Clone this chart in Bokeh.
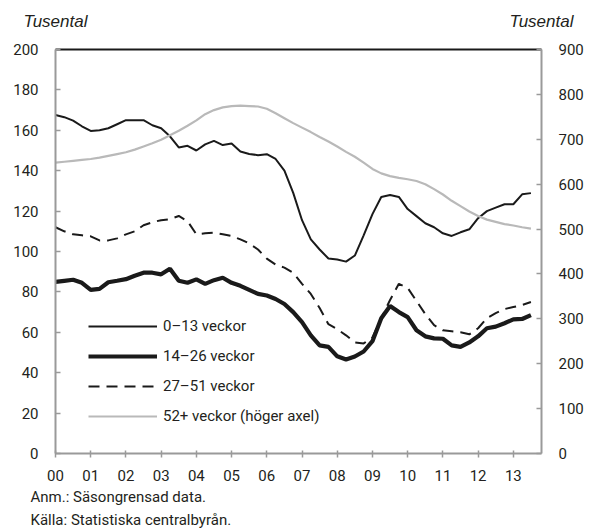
from bokeh.plotting import figure
from bokeh.models import Range1d, LinearAxis, Legend, LegendItem, FixedTicker, Title
from bokeh.embed import file_html
from bokeh.resources import INLINE

# Quarterly data, 2000 Q1 - 2013 Q3 (thousands)
year_ticks = list(range(14))
year_labels = ["00", "01", "02", "03", "04", "05", "06", "07", "08", "09", "10", "11", "12", "13"]

w0_13 = [167.6, 166.5, 164.8, 162.0, 159.7, 160.0, 161.0, 163.0, 165.0, 165.0, 165.0, 162.5,
         161.0, 157.0, 151.5, 152.3, 150.0, 153.0, 154.8, 152.7, 153.5, 149.5, 148.3, 147.7,
         148.2, 145.8, 140.0, 129.0, 115.5, 106.0, 101.0, 96.5, 96.0, 95.0, 98.0, 108.0,
         118.5, 127.0, 128.0, 127.0, 121.0, 117.5, 114.0, 112.0, 109.0, 107.7, 109.5, 111.0,
         116.5, 120.0, 121.7, 123.4, 123.4, 128.3, 128.9]
w14_26 = [85.0, 85.5, 86.0, 84.5, 81.0, 81.5, 84.8, 85.5, 86.3, 88.0, 89.5, 89.5,
          88.7, 91.5, 85.5, 84.5, 86.2, 84.0, 85.8, 87.0, 84.5, 83.0, 81.0, 79.0,
          78.2, 76.5, 74.0, 70.0, 65.0, 58.5, 53.5, 52.8, 48.1, 46.5, 48.0, 50.5,
          55.6, 67.0, 73.0, 70.0, 67.5, 61.0, 58.0, 57.0, 56.8, 53.5, 52.8, 55.0,
          58.0, 62.0, 62.8, 64.5, 66.4, 66.6, 68.5]
w27_51 = [112.0, 110.0, 108.5, 108.0, 107.5, 105.5, 105.5, 106.5, 108.5, 110.0, 113.0, 114.5,
          115.5, 116.0, 117.6, 115.0, 108.5, 109.0, 109.3, 108.5, 107.7, 106.0, 104.0, 101.0,
          96.5, 93.5, 92.0, 89.5, 84.0, 79.0, 72.0, 64.0, 61.5, 58.5, 55.0, 54.5,
          57.5, 67.0, 76.0, 84.0, 82.0, 75.5, 69.0, 63.5, 61.0, 60.5, 60.0, 59.0,
          62.0, 67.0, 69.5, 71.5, 72.5, 73.5, 75.0]
w52p = [648, 650, 652, 654, 656, 659, 663, 667, 671, 677, 684, 691,
        699, 709, 719, 730, 742, 756, 765, 771, 774, 775, 774, 773,
        768, 758, 747, 736, 726, 716, 705, 695, 684, 672, 661, 648,
        634, 624, 618, 614, 611, 607, 600, 589, 577, 563, 551, 539,
        529, 521, 516, 511, 508, 504, 501]

series_names = ["0\u201313 veckor", "14\u201326 veckor", "27\u201351 veckor", "52+ veckor (h\u00f6ger axel)"]
unit_label = "Tusental"
notes = ["Anm.: S\u00e4songrensad data.", "K\u00e4lla: Statistiska centralbyr\u00e5n."]

x = [i / 4 for i in range(len(w0_13))]

FONT = "Roboto"
GRAY_AX = "#9a9a9a"
TXT = "#231f20"
X_END = 13.8

p = figure(frame_width=486, frame_height=404, output_backend="svg", toolbar_location=None,
           x_range=Range1d(0, X_END), y_range=Range1d(0, 200), x_axis_location=None,
           min_border_left=55, min_border_right=49, min_border_top=49, min_border_bottom=76)
p.extra_y_ranges = {"right": Range1d(0, 900)}
p.outline_line_color = None
p.xgrid.visible = False
p.ygrid.visible = False
p.background_fill_color = "white"

r1 = p.line(x, w0_13, line_color="#1a1a1a", line_width=2)
r2 = p.line(x, w14_26, line_color="#1a1a1a", line_width=4.2)
r3 = p.line(x, w27_51, line_color="#1a1a1a", line_width=2, line_dash="11 7")
r4 = p.line(x, w52p, line_color="#b9b9b9", line_width=2.2, y_range_name="right")

# bottom axis
xa = LinearAxis(ticker=FixedTicker(ticks=year_ticks))
xa.major_label_overrides = {t: l for t, l in zip(year_ticks, year_labels)}
xa.axis_line_color = GRAY_AX
xa.axis_line_width = 2
xa.major_tick_line_color = GRAY_AX
xa.major_tick_line_width = 1.5
xa.major_tick_in = 3
xa.major_tick_out = 4
xa.minor_tick_line_color = None
xa.major_label_text_font = FONT
xa.major_label_text_font_size = "15px"
xa.major_label_text_color = TXT
xa.major_label_standoff = 12
p.add_layout(xa, "below")

# top axis: black frame line + unit labels at both ends
ta = LinearAxis(ticker=FixedTicker(ticks=[0.0001, X_END - 0.0001]))
ta.major_label_overrides = {0.0001: unit_label, X_END - 0.0001: unit_label}
ta.axis_line_color = "#1a1a1a"
ta.axis_line_width = 1.8
ta.major_tick_line_color = None
ta.minor_tick_line_color = None
ta.major_label_text_font = "Liberation Sans"
ta.major_label_text_font_style = "italic"
ta.major_label_text_font_size = "17px"
ta.major_label_text_color = TXT
ta.major_label_standoff = 13
p.add_layout(ta, "above")

ya = p.yaxis[0]
ya.ticker = FixedTicker(ticks=[0, 20, 40, 60, 80, 100, 120, 140, 160, 180, 200])
ya.axis_line_color = GRAY_AX
ya.axis_line_width = 2
ya.major_tick_line_color = GRAY_AX
ya.major_tick_line_width = 1.5
ya.major_tick_in = 5
ya.major_tick_out = 0
ya.minor_tick_line_color = None
ya.major_label_text_font = FONT
ya.major_label_text_font_size = "15px"
ya.major_label_text_color = TXT
ya.major_label_standoff = 17

ra = LinearAxis(y_range_name="right", ticker=FixedTicker(ticks=[0, 100, 200, 300, 400, 500, 600, 700, 800, 900]))
ra.axis_line_color = GRAY_AX
ra.axis_line_width = 2
ra.major_tick_line_color = GRAY_AX
ra.major_tick_line_width = 1.5
ra.major_tick_in = 5
ra.major_tick_out = 0
ra.minor_tick_line_color = None
ra.major_label_text_font = FONT
ra.major_label_text_font_size = "15px"
ra.major_label_text_color = TXT
ra.major_label_standoff = 17
p.add_layout(ra, "right")

legend = Legend(items=[LegendItem(label=n, renderers=[r]) for n, r in zip(series_names, [r1, r2, r3, r4])],
                location=(33, 22), orientation="vertical",
                padding=0, margin=0, spacing=0,
                glyph_width=69, glyph_height=30, label_height=30, label_standoff=6,
                label_text_font=FONT, label_text_font_size="15px", label_text_color=TXT,
                border_line_alpha=0, background_fill_alpha=0)
p.add_layout(legend, "center")

for txt, so in zip(notes, [5, 0]):
    p.add_layout(Title(text=txt, align="left", offset=-25, standoff=so,
                       text_font=FONT, text_font_size="15px", text_font_style="normal",
                       text_color=TXT), "below")

open("out.html", "w").write(file_html(p, INLINE))
